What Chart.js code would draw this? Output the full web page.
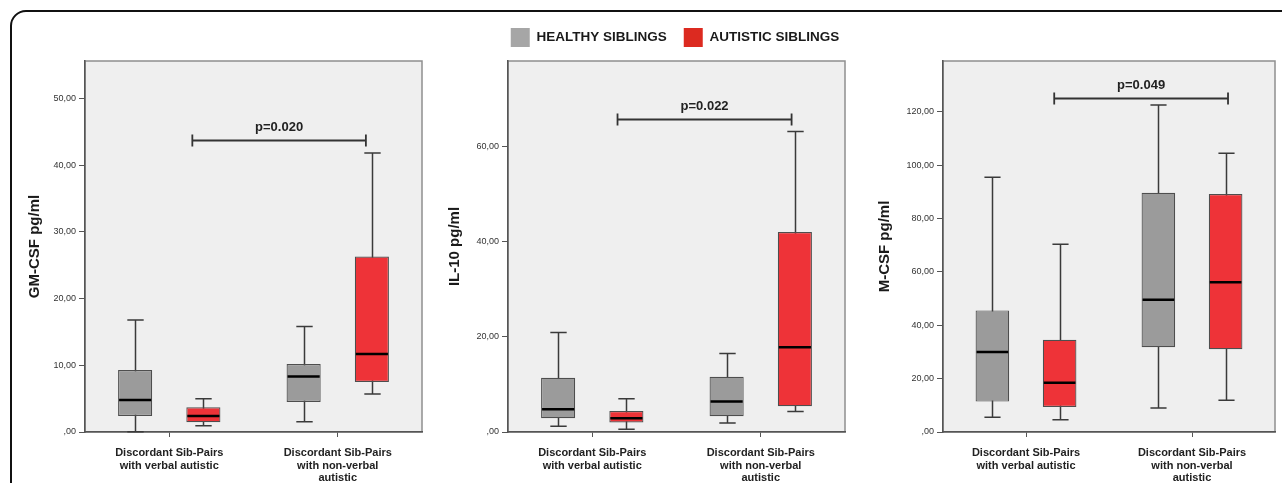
<!DOCTYPE html>
<html><head><meta charset="utf-8">
<script src="https://cdn.jsdelivr.net/npm/chart.js@4.4.1/dist/chart.umd.min.js"></script>
<style>
html,body{margin:0;padding:0;background:#fff;width:1282px;height:483px;overflow:hidden;position:relative;}
#frame{position:absolute;left:10px;top:10px;width:1320px;height:540px;border:2px solid #111;border-radius:16px;box-sizing:border-box;}
canvas{position:absolute;}
</style></head><body>
<div id="frame"></div>
<canvas id="c1" width="410" height="433" style="left:20px;top:50px"></canvas>
<canvas id="c2" width="470" height="472" style="left:440px;top:11px"></canvas>
<canvas id="c3" width="412" height="433" style="left:870px;top:50px"></canvas>
<script>
// ---------- DATA ----------
const categories = [["Discordant Sib-Pairs","with verbal autistic"],["Discordant Sib-Pairs","with non-verbal","autistic"]];
const seriesNames = ["HEALTHY SIBLINGS","AUTISTIC SIBLINGS"];
// each entry: [min, q1, median, q3, max]
const gmcsfHealthy  = [[0.05,2.4,4.8,9.3,16.8],[1.55,4.5,8.3,10.2,15.8]];
const gmcsfAutistic = [[0.95,1.45,2.4,3.7,5.0],[5.7,7.5,11.7,26.3,41.8]];
const il10Healthy   = [[1.2,2.9,4.8,11.4,20.9],[1.9,3.3,6.4,11.6,16.5]];
const il10Autistic  = [[0.6,2.0,2.9,4.4,7.0],[4.3,5.4,17.8,42.0,63.1]];
const mcsfHealthy   = [[5.5,11.4,30.0,45.6,95.5],[9.0,31.8,49.6,89.7,122.6]];
const mcsfAutistic  = [[4.6,9.4,18.5,34.6,70.4],[11.9,31.0,56.1,89.2,104.5]];
const axisTitles = ["GM-CSF pg/ml","IL-10 pg/ml","M-CSF pg/ml"];
const gmcsfTicks = [0,10,20,30,40,50];
const gmcsfTickLabels = [",00","10,00","20,00","30,00","40,00","50,00"];
const il10Ticks = [0,20,40,60];
const il10TickLabels = [",00","20,00","40,00","60,00"];
const mcsfTicks = [0,20,40,60,80,100,120];
const mcsfTickLabels = [",00","20,00","40,00","60,00","80,00","100,00","120,00"];
const yMaxValues = [55.6, 77.9, 139.1];
const pTexts = ["p=0.020","p=0.022","p=0.049"];
const pBracketValues = [43.7, 65.8, 125.4];

// ---------- STYLE ----------
const FONT = '"Liberation Sans", Arial, Helvetica, sans-serif';
const boxColors = ['#9b9b9b','#ee3338'];
const legendColors = ['#a6a6a6','#dc2a20'];
const bracketSpans = [[0.137,1.167],[0.15,1.183],[0.17,1.217]];

const boxPlugin = {
  id: 'boxWhisker',
  beforeDraw(chart) {
    const {ctx, chartArea: a} = chart;
    ctx.save();
    ctx.fillStyle = '#efefef';
    ctx.fillRect(a.left, a.top, a.width, a.height);
    ctx.strokeStyle = '#8f8f8f';
    ctx.lineWidth = 1.5;
    ctx.strokeRect(a.left, a.top, a.width, a.height);
    ctx.restore();
  },
  beforeDatasetsDraw(chart) {
    const {ctx} = chart, y = chart.scales.y;
    ctx.save();
    ctx.strokeStyle = '#3a3a3a';
    ctx.lineWidth = 1.5;
    chart.data.datasets.forEach((ds, di) => {
      chart.getDatasetMeta(di).data.forEach((bar, i) => {
        const s = ds.stats[i];
        const x = Math.round(bar.x) + 0.5, cap = bar.width * 0.24;
        const yMin = y.getPixelForValue(s[0]), yMax = y.getPixelForValue(s[4]);
        ctx.beginPath();
        ctx.moveTo(x, yMin); ctx.lineTo(x, yMax);
        ctx.moveTo(x - cap, yMin); ctx.lineTo(x + cap, yMin);
        ctx.moveTo(x - cap, yMax); ctx.lineTo(x + cap, yMax);
        ctx.stroke();
      });
    });
    ctx.restore();
  },
  afterDatasetsDraw(chart) {
    const {ctx} = chart, y = chart.scales.y;
    ctx.save();
    ctx.strokeStyle = '#000';
    ctx.lineWidth = 2.5;
    chart.data.datasets.forEach((ds, di) => {
      chart.getDatasetMeta(di).data.forEach((bar, i) => {
        const ym = y.getPixelForValue(ds.stats[i][2]);
        ctx.beginPath();
        ctx.moveTo(bar.x - bar.width / 2 + 1, ym);
        ctx.lineTo(bar.x + bar.width / 2 - 1, ym);
        ctx.stroke();
      });
    });
    ctx.restore();
  },
  afterDraw(chart) {
    const o = chart.options.plugins.boxWhisker;
    const {ctx} = chart, x = chart.scales.x, y = chart.scales.y;
    const x0 = x.getPixelForValue(o.span[0]), x1 = x.getPixelForValue(o.span[1]);
    const yb = Math.round(y.getPixelForValue(o.value)) + 0.5;
    ctx.save();
    ctx.strokeStyle = '#333';
    ctx.lineWidth = 1.8;
    ctx.beginPath();
    ctx.moveTo(x0, yb); ctx.lineTo(x1, yb);
    ctx.moveTo(x0, yb - 6); ctx.lineTo(x0, yb + 6);
    ctx.moveTo(x1, yb - 6); ctx.lineTo(x1, yb + 6);
    ctx.stroke();
    ctx.fillStyle = '#222';
    ctx.font = 'bold 13px ' + FONT;
    ctx.textAlign = 'center';
    ctx.textBaseline = 'middle';
    ctx.fillText(o.text, (x0 + x1) / 2, yb - 13);
    ctx.restore();
  }
};

const legendGap = {
  id: 'legendGap',
  beforeInit(chart) {
    if (!chart.legend) return;
    const fit = chart.legend.fit;
    chart.legend.fit = function () {
      fit.call(this);
      if (this.options.display) this.height += 4;
    };
  }
};

function makePanel(id, idx, healthy, autistic, tickVals, tickLabels, yAxisWidth, rightWidth, pad, showLegend) {
  const ctx = document.getElementById(id).getContext('2d');
  const stats = [healthy, autistic];
  const scales = {
    x: {
      offset: true,
      grid: { display: true, drawOnChartArea: false, drawTicks: true, tickLength: 5, offset: false, color: '#555' },
      border: { display: true, color: '#555', width: 1.5 },
      ticks: { color: '#222', padding: 10, maxRotation: 0, autoSkip: false,
               font: { family: FONT, size: 11, weight: 'bold', lineHeight: 1.14 } },
      afterFit: s => { s.height = 51; }
    },
    y: {
      min: 0, max: yMaxValues[idx],
      grid: { display: true, drawOnChartArea: false, drawTicks: true, tickLength: 6, color: '#555' },
      border: { display: true, color: '#555', width: 1.5 },
      ticks: { color: '#333', padding: 3, includeBounds: false,
               font: { family: FONT, size: 9 },
               callback: v => { const k = tickVals.indexOf(v); return k >= 0 ? tickLabels[k] : ''; } },
      afterBuildTicks: s => { s.ticks = tickVals.map(v => ({ value: v })); },
      title: { display: true, text: axisTitles[idx], color: '#1a1a1a',
               padding: { top: 6, bottom: 0 },
               font: { family: FONT, size: 15, weight: 'bold', lineHeight: 1.2 } },
      afterFit: s => { s.width = yAxisWidth; }
    }
  };
  if (rightWidth > 0) {
    // empty right-hand margin axis so the top legend spans a wider box
    scales.yRight = {
      position: 'right', display: true,
      grid: { display: false, drawTicks: false }, border: { display: false },
      ticks: { display: false },
      afterFit: s => { s.width = rightWidth; }
    };
  }
  new Chart(ctx, {
    type: 'bar',
    data: {
      labels: categories,
      datasets: seriesNames.map((name, i) => ({
        label: name,
        data: stats[i].map(s => [s[1], s[3]]),
        stats: stats[i],
        backgroundColor: boxColors[i],
        borderColor: '#4e4e4e',
        borderWidth: 1.2,
        borderSkipped: false,
        categoryPercentage: 0.81,
        barPercentage: 0.5
      }))
    },
    options: {
      responsive: false,
      devicePixelRatio: 1,
      animation: false,
      layout: { padding: pad },
      plugins: {
        tooltip: { enabled: false },
        legend: {
          display: showLegend,
          position: 'top',
          labels: {
            boxWidth: 19, boxHeight: 19, padding: 17,
            color: '#1a1a1a',
            font: { family: FONT, size: 13.5, weight: 'bold' },
            generateLabels: () => seriesNames.map((n, i) => ({
              text: n, fillStyle: legendColors[i], strokeStyle: legendColors[i],
              lineWidth: 0, hidden: false, datasetIndex: i, fontColor: '#1a1a1a'
            }))
          }
        },
        boxWhisker: { span: bracketSpans[idx], value: pBracketValues[idx], text: pTexts[idx] }
      },
      scales
    },
    plugins: [boxPlugin, legendGap]
  });
}

makePanel('c1', 0, gmcsfHealthy, gmcsfAutistic, gmcsfTicks, gmcsfTickLabels, 65, 0, { top: 11, right: 8, left: 0, bottom: 0 }, false);
makePanel('c2', 1, il10Healthy, il10Autistic, il10Ticks, il10TickLabels, 68, 65, { top: 0, right: 0, left: 0, bottom: 0 }, true);
makePanel('c3', 2, mcsfHealthy, mcsfAutistic, mcsfTicks, mcsfTickLabels, 73, 0, { top: 11, right: 7, left: 0, bottom: 0 }, false);
</script>
</body></html>
